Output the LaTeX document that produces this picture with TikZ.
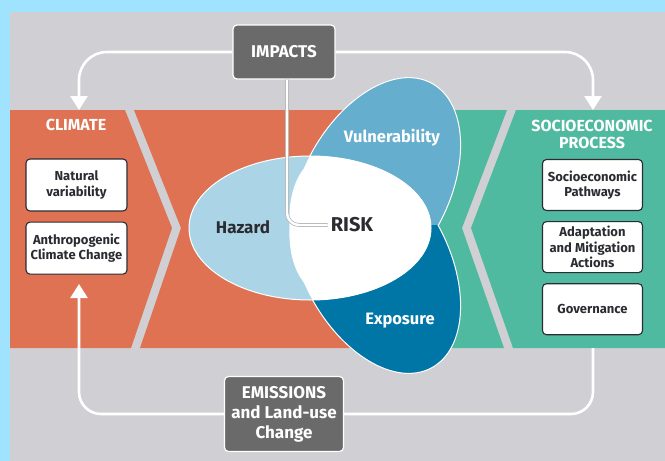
\documentclass[tikz,border=0pt]{standalone}
\usepackage{fontspec}
\setmainfont{Fira Sans}
\usetikzlibrary{arrows.meta}
\usetikzlibrary{positioning}

\definecolor{skyframe}{RGB}{160,227,255}
\definecolor{panelgray}{RGB}{208,208,212}
\definecolor{climorange}{RGB}{222,114,82}
\definecolor{socgreen}{RGB}{80,186,160}
\definecolor{hazblue}{RGB}{171,213,230}
\definecolor{vulblue}{RGB}{101,174,205}
\definecolor{expblue}{RGB}{0,118,167}
\definecolor{boxgray}{RGB}{106,106,106}
\definecolor{inkgray}{RGB}{42,44,50}

\tikzset{
	factor/.style={draw=inkgray, line width=1.1pt, fill=white, rounded corners=4pt,
		text=inkgray, font=\bfseries\fontsize{13}{15.5}\selectfont, align=center,
		minimum width=101pt, minimum height=52pt, inner sep=2pt},
	driver/.style={draw=white, line width=1.2pt, fill=boxgray, rounded corners=4pt,
		text=white, font=\bfseries\fontsize{17}{20}\selectfont, align=center,
		minimum width=102pt, minimum height=54pt, inner sep=2pt},
	header/.style={text=white, font=\bfseries\fontsize{16}{17}\selectfont, align=center},
	petal/.style={draw=white, line width=1pt},
	flowline/.style={draw=white, line width=2.6pt, rounded corners=28pt},
	flow/.style={flowline, -{Triangle[width=17pt,length=14pt]}},
	riskline/.style={draw=white, line width=2.4pt, rounded corners=12pt,
		preaction={draw=black!30, line width=3.8pt}}
}

\begin{document}
\begin{tikzpicture}[x=1pt,y=-1pt]
	% frame and panel
	\fill[skyframe] (0,0) rectangle (665,461);
	\fill[panelgray] (10,12) rectangle (665,461);

	% climate band
	\fill[climorange] (10,110) -- (125,110) -- (172,228) -- (131,348) -- (10,348) -- cycle;
	\fill[climorange] (134,110) -- (400,110) -- (400,348) -- (140,348) -- (181,228) -- cycle;
	% socioeconomic band
	\fill[socgreen] (400,110) -- (507,110) -- (462,228) -- (504,348) -- (400,348) -- cycle;
	\fill[socgreen] (516,110) -- (665,110) -- (665,348) -- (513,348) -- (471,228) -- cycle;

	\coordinate (climatein) at (79,110);
	\coordinate (socioin)   at (593,110);
	\coordinate (anthroin)  at (79,284);
	\coordinate (socioout)  at (593,348);

	% risk petals
	\begin{scope}
		\clip (270,60) rectangle (480,225.5);
		\path[petal, fill=vulblue] (375,189) ellipse [x radius=120pt, y radius=73pt, rotate=62];
	\end{scope}
	\begin{scope}
		\clip (270,225.5) rectangle (480,390);
		\path[petal, fill=expblue] (375,262) ellipse [x radius=120pt, y radius=73pt, rotate=-62];
	\end{scope}
	\path[petal, fill=hazblue] (310,228) ellipse [x radius=121pt, y radius=72pt];
	\begin{scope}
		\clip (310,228) ellipse [x radius=121pt, y radius=72pt];
		\fill[white] (375,189) ellipse [x radius=120pt, y radius=73pt, rotate=62];
		\fill[white] (375,262) ellipse [x radius=120pt, y radius=73pt, rotate=-62];
	\end{scope}

	\node[text=inkgray, font=\bfseries\fontsize{17}{20}\selectfont] (hazard) at (243,227) {Hazard};
	\node[text=white, font=\bfseries\fontsize{16.5}{20}\selectfont] (vuln) at (392,138) {Vulnerability};
	\node[text=white, font=\bfseries\fontsize{16.5}{20}\selectfont] (expo) at (400,321) {Exposure};
	\node[text=inkgray, font=\bfseries\fontsize{20}{24}\selectfont, inner sep=3pt] (risk) at (352,225) {RISK};

	% band contents
	\node[header] (climate) at (76,125) {CLIMATE};
	\node[header] (socio) at (592,134) {SOCIOECONOMIC\\PROCESS};

	\node[factor] (natural) at (76.5,185) {Natural\\variability};
	\node[factor, below=10pt of natural] (anthro) {Anthropogenic\\Climate Change};

	\node[factor, minimum width=100pt, minimum height=51pt] (pathways) at (592.5,185) {Socioeconomic\\Pathways};
	\node[factor, minimum width=100pt, minimum height=51pt, below=10pt of pathways] (adapt) {Adaptation\\and Mitigation\\Actions};
	\node[factor, minimum width=100pt, minimum height=51pt, below=10pt of adapt] (govern) {Governance};

	% drivers
	\node[driver] (impacts) at (284,52) {IMPACTS};
	\node[driver, minimum width=119pt, minimum height=75pt] (emissions) at (284,414) {EMISSIONS\\and Land-use\\Change};

	\draw[flow] (impacts.west) -| (climatein);
	\draw[flow] (impacts.east) -| (socioin);
	\draw[flow, rounded corners=22pt] (emissions.west) -| (anthroin);
	\draw[flowline, rounded corners=22pt] (socioout) |- (emissions.east);
	\draw[riskline] ([xshift=3pt]impacts.south) |- (risk.west);
\end{tikzpicture}
\end{document}
